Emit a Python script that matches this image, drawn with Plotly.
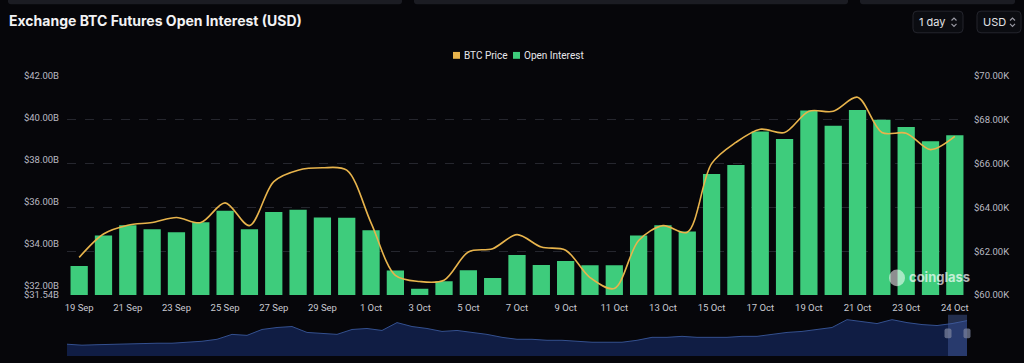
import plotly.graph_objects as go

# ---------------- data ----------------
dates = ["19 Sep", "20 Sep", "21 Sep", "22 Sep", "23 Sep", "24 Sep", "25 Sep", "26 Sep",
         "27 Sep", "28 Sep", "29 Sep", "30 Sep", "1 Oct", "2 Oct", "3 Oct", "4 Oct",
         "5 Oct", "6 Oct", "7 Oct", "8 Oct", "9 Oct", "10 Oct", "11 Oct", "12 Oct",
         "13 Oct", "14 Oct", "15 Oct", "16 Oct", "17 Oct", "18 Oct", "19 Oct", "20 Oct",
         "21 Oct", "22 Oct", "23 Oct", "24 Oct", "25 Oct"]

open_interest_b = [32.93, 34.38, 34.88, 34.68, 34.54, 35.02, 35.57, 34.68,
                   35.51, 35.61, 35.24, 35.23, 34.64, 32.71, 31.84, 32.20,
                   32.73, 32.35, 33.45, 32.98, 33.17, 32.96, 32.96, 34.38,
                   34.88, 34.58, 37.32, 37.75, 39.35, 38.99, 40.35, 39.63,
                   40.38, 39.91, 39.56, 38.88, 39.17]

btc_price_k = [61.72, 62.79, 63.19, 63.31, 63.54, 63.31, 64.21, 63.17,
               65.18, 65.70, 65.81, 65.70, 63.30, 60.90, 60.62, 60.68,
               61.97, 62.12, 62.76, 62.19, 62.05, 60.80, 60.30, 62.49,
               63.17, 62.87, 66.00, 66.97, 67.57, 67.42, 68.39, 68.39,
               69.03, 67.42, 67.39, 66.64, 67.24]

# x tick labels as shown in the picture
x_tick_dates = ["19 Sep", "21 Sep", "23 Sep", "25 Sep", "27 Sep", "29 Sep", "1 Oct",
                "3 Oct", "5 Oct", "7 Oct", "9 Oct", "11 Oct", "13 Oct", "15 Oct",
                "17 Oct", "19 Oct", "21 Oct", "23 Oct", "25 Oct"]
x_tick_labels = ["19 Sep", "21 Sep", "23 Sep", "25 Sep", "27 Sep", "29 Sep", "1 Oct",
                 "3 Oct", "5 Oct", "7 Oct", "9 Oct", "11 Oct", "13 Oct", "15 Oct",
                 "17 Oct", "19 Oct", "21 Oct", "23 Oct", "24 Oct"]

left_ticks = [31.54, 32, 34, 36, 38, 40, 42]
left_tick_labels = ["$31.54B", "$32.00B", "$34.00B", "$36.00B", "$38.00B", "$40.00B", "$42.00B"]
right_ticks = [60, 62, 64, 66, 68, 70]
right_tick_labels = ["$60.00K", "$62.00K", "$64.00K", "$66.00K", "$68.00K", "$70.00K"]

legend_names = ["BTC Price", "Open Interest"]

# navigator (long history overview, relative heights)
navigator_values = [12, 11, 11.5, 12, 12, 12.5, 13, 13, 14, 15, 17, 22, 21, 27, 29, 30,
                    24, 23, 22, 27, 28, 26, 34, 30, 28, 25, 26, 24, 22, 19, 17, 17,
                    16, 16, 15, 14, 14, 14, 16, 19, 19, 20, 19, 19, 19, 20, 20, 22,
                    24, 25, 27, 29, 37, 35, 33, 37, 34, 32, 31, 33, 36]

# ---------------- layout helpers ----------------
W, H = 1024, 363
ML, MR, MT, MB = 67, 57, 76, 2
PW = W - ML - MR
PH = H - MT - MB


def px(x):
    return (x - ML) / PW


def py(y):
    return (H - MB - y) / PH


BG = "#06060a"
GREEN = "#3ecc7c"
ORANGE = "#e8b44c"
AXIS_FONT = "Roboto, sans-serif"
TICK_FONT = dict(family=AXIS_FONT, size=9.5, color="#b9b9c2")

fig = go.Figure()

fig.add_trace(go.Bar(
    x=dates, y=open_interest_b, marker=dict(color=GREEN, line=dict(width=0)),
    name="Open Interest", showlegend=False, xaxis="x", yaxis="y"))

fig.add_trace(go.Scatter(
    x=dates, y=btc_price_k, mode="lines",
    line=dict(color=ORANGE, width=1.6, shape="spline", smoothing=0.9),
    name="BTC Price", showlegend=False, xaxis="x", yaxis="y2"))

# navigator
fig.add_trace(go.Scatter(
    x=list(range(len(navigator_values))), y=navigator_values, mode="lines",
    fill="tozeroy", fillcolor="rgba(20,38,88,0.75)",
    line=dict(color="#34508f", width=1), showlegend=False,
    xaxis="x2", yaxis="y3", hoverinfo="skip"))

shapes = []


def rrect(x0, y0, x1, y1, r, fill, line_color, lw=1):
    X0, X1 = px(x0), px(x1)
    Y0, Y1 = py(y0), py(y1)
    rx, ry = r / PW, r / PH
    path = (f"M {X0 + rx},{Y0} L {X1 - rx},{Y0} Q {X1},{Y0} {X1},{Y0 - ry} "
            f"L {X1},{Y1 + ry} Q {X1},{Y1} {X1 - rx},{Y1} L {X0 + rx},{Y1} "
            f"Q {X0},{Y1} {X0},{Y1 + ry} L {X0},{Y0 - ry} Q {X0},{Y0} {X0 + rx},{Y0} Z")
    return dict(type="path", xref="paper", yref="paper", path=path,
                fillcolor=fill, line=dict(color=line_color, width=lw), layer="above")


# top strip (edges of cards above)
for a, b in [(8, 402), (414, 848), (860, 1015)]:
    shapes.append(rrect(a, -4, b, 3, 3, "#1b1c23", "#1b1c23", 0))

# buttons
shapes.append(rrect(913, 10, 963, 32, 4, "#0b0c11", "#24252d"))
shapes.append(rrect(977, 10, 1021, 32, 4, "#0b0c11", "#24252d"))


def chevrons(cx):
    out = []
    for (a, b, c) in [((cx - 2.5, 19.5), (cx, 17), (cx + 2.5, 19.5)),
                      ((cx - 2.5, 23), (cx, 25.5), (cx + 2.5, 23))]:
        path = f"M {px(a[0])},{py(a[1])} L {px(b[0])},{py(b[1])} L {px(c[0])},{py(c[1])}"
        out.append(dict(type="path", xref="paper", yref="paper", path=path,
                        line=dict(color="#9a9aa4", width=1.2), layer="above"))
    return out


shapes += chevrons(954)
shapes += chevrons(1012.5)

# legend swatches
legend_colors = [ORANGE, GREEN]
legend_sq_x = [453, 513]
for c, x0 in zip(legend_colors, legend_sq_x):
    shapes.append(dict(type="rect", xref="paper", yref="paper", x0=px(x0), x1=px(x0 + 7),
                       y0=py(58.5), y1=py(51.5), fillcolor=c, line=dict(width=0),
                       layer="above"))

# navigator selection window and handles
shapes.append(dict(type="rect", xref="paper", yref="paper", x0=px(948), x1=px(967),
                   y0=py(361), y1=py(319), fillcolor="rgba(70,95,160,0.45)",
                   line=dict(width=0), layer="above"))
shapes.append(rrect(944.5, 333, 951.5, 343, 2, "rgba(120,128,155,0.75)", "rgba(0,0,0,0)", 0))
shapes.append(rrect(963.5, 333, 970.5, 343, 2, "rgba(120,128,155,0.75)", "rgba(0,0,0,0)", 0))

# watermark icon
shapes.append(dict(type="circle", xref="paper", yref="paper", x0=px(889), x1=px(905),
                   y0=py(290), y1=py(273), fillcolor="rgba(255,255,255,0.55)",
                   line=dict(width=0), layer="above"))

UI_FONT = "Inter, Roboto, sans-serif"
annotations = [
    dict(text="<b>Exchange BTC Futures Open Interest (USD)</b>", x=px(7), y=py(20),
         xref="paper", yref="paper", xanchor="left", yanchor="middle", showarrow=False,
         font=dict(family=UI_FONT, size=14, color="#f2f2f4")),
    dict(text="1 day", x=px(917), y=py(21), xref="paper", yref="paper", xanchor="left",
         yanchor="middle", showarrow=False,
         font=dict(family=UI_FONT, size=11, color="#e2e2e6")),
    dict(text="USD", x=px(981), y=py(21), xref="paper", yref="paper", xanchor="left",
         yanchor="middle", showarrow=False,
         font=dict(family=UI_FONT, size=11, color="#e2e2e6")),
    dict(text="<b>coinglass</b>", x=px(907), y=py(281), xref="paper", yref="paper",
         xanchor="left", yanchor="middle", showarrow=False,
         font=dict(family=UI_FONT, size=13, color="rgba(255,255,255,0.7)")),
]
for name, x0 in zip(legend_names, legend_sq_x):
    annotations.append(dict(text=name, x=px(x0 + 9), y=py(55), xref="paper", yref="paper",
                            xanchor="left", yanchor="middle", showarrow=False,
                            font=dict(family=AXIS_FONT, size=10, color="#e6e6ea")))

fig.update_layout(
    width=W, height=H,
    margin=dict(l=ML, r=MR, t=MT, b=MB, pad=0),
    paper_bgcolor=BG, plot_bgcolor=BG,
    bargap=0.29,
    showlegend=False,
    xaxis=dict(type="category", categoryorder="array", categoryarray=dates,
               range=[-0.5, len(dates) - 0.5], domain=[0, 1], anchor="y",
               tickmode="array", tickvals=x_tick_dates, ticktext=x_tick_labels,
               showgrid=False, zeroline=False, showline=False, ticks="",
               ticklabelstandoff=5,
               tickfont=dict(family=AXIS_FONT, size=9.5, color="#c9c9d1")),
    yaxis=dict(domain=[py(299), 1], range=[31.54, 42], tickmode="array",
               tickvals=left_ticks, ticktext=left_tick_labels, showgrid=False,
               zeroline=False, showline=False, ticks="", ticklabelstandoff=7,
               tickfont=TICK_FONT),
    yaxis2=dict(overlaying="y", side="right", anchor="x", range=[60, 70],
                tickmode="array", tickvals=right_ticks, ticktext=right_tick_labels,
                showgrid=True, gridcolor="#25262e", griddash="dash", gridwidth=1,
                zeroline=False, showline=False, ticks="", ticklabelstandoff=6,
                tickfont=TICK_FONT),
    xaxis2=dict(domain=[0, 1], anchor="y3", range=[0, len(navigator_values) - 1],
                visible=False),
    yaxis3=dict(domain=[0, py(318)], range=[0, 43], visible=False),
    shapes=shapes,
    annotations=annotations,
    hovermode=False,
)

fig.write_html("out.html", config={"displayModeBar": False},
               post_script="document.body.style.margin='0';document.body.style.overflow='hidden';")
